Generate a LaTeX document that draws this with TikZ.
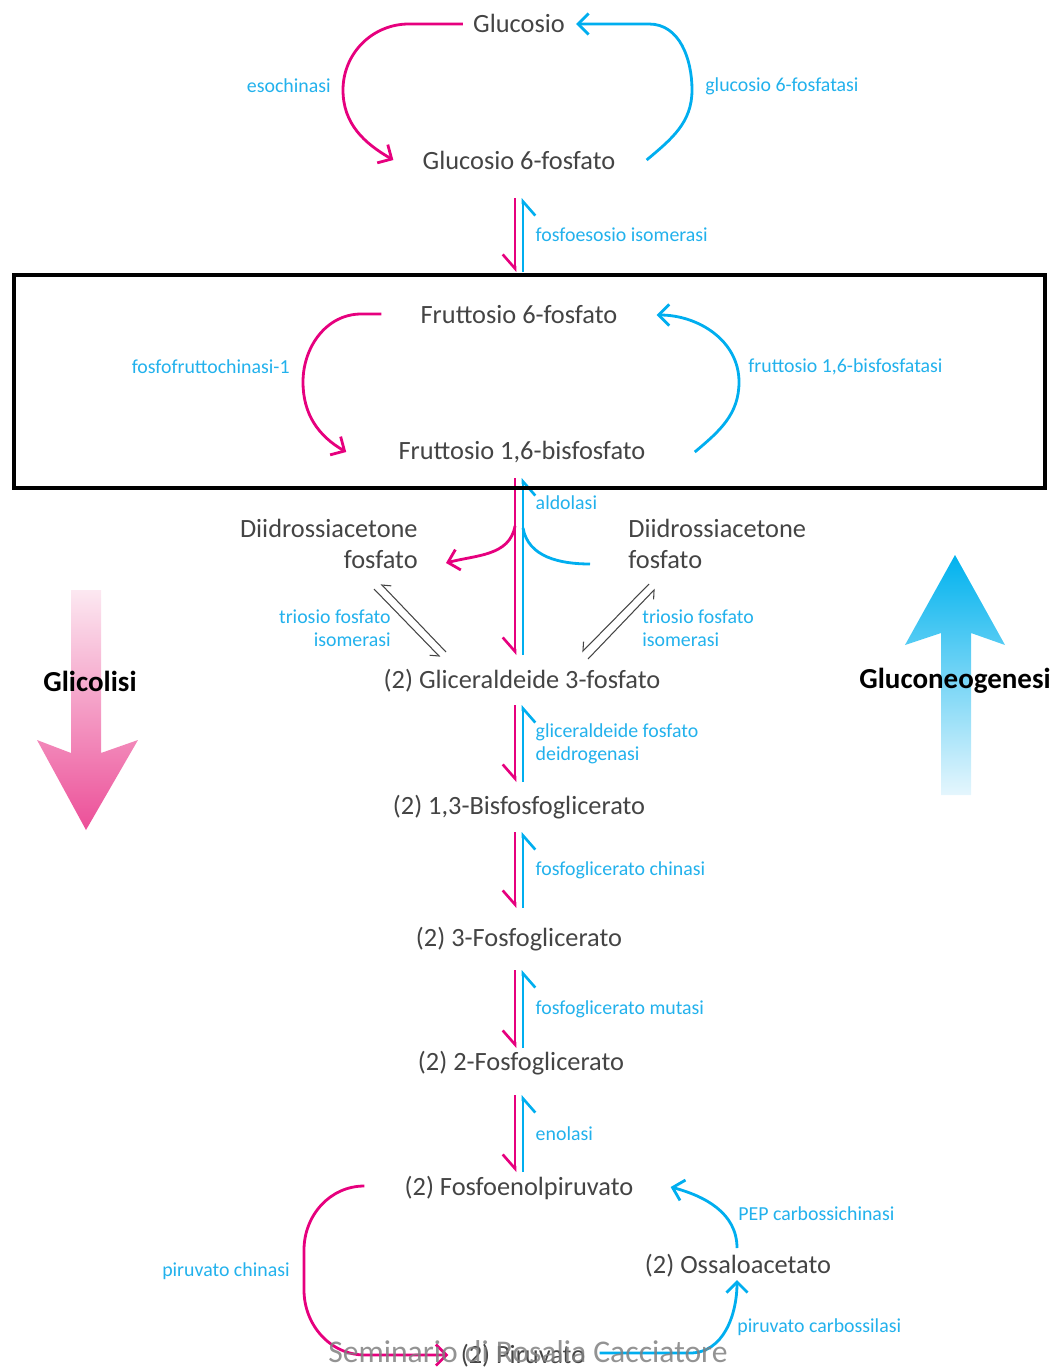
\documentclass[tikz,border=0pt]{standalone}
\usepackage{fontspec}
\setmainfont{Carlito}
\usetikzlibrary{arrows.meta, positioning, calc}
\definecolor{glycol}{HTML}{E6007E}
\definecolor{neocol}{HTML}{00AEEF}
\definecolor{enzcol}{HTML}{22B1EC}
\definecolor{metcol}{HTML}{444444}
\definecolor{glylight}{HTML}{FCE8F1}
\definecolor{glydark}{HTML}{EC4F98}
\definecolor{neolight}{HTML}{E5F6FD}
\definecolor{neodark}{HTML}{00B2EE}

\begin{document}
\begin{tikzpicture}[x=0.02cm, y=0.02cm]
    \tikzstyle{metab} = [font=\fontsize{15}{17.6}\selectfont, text=metcol, inner sep=0pt, text height=9.6pt, text depth=0pt]
    \tikzstyle{metabtwo} = [font=\fontsize{15}{17.6}\selectfont, text=metcol, inner sep=0pt]
    \tikzstyle{enz} = [font=\fontsize{11.3}{13}\selectfont, text=enzcol, inner sep=0pt, align=left]
    \tikzstyle{pathname} = [font=\fontsize{16.5}{18}\selectfont\bfseries, text=black, inner sep=0pt]
    \tikzstyle{glyarr} = [draw=glycol, line width=1.6pt, -{Straight Barb[length=6pt, width=12pt]}]
    \tikzstyle{neoarr} = [draw=neocol, line width=1.6pt, -{Straight Barb[length=6pt, width=12pt]}]
    \tikzstyle{glyline} = [draw=glycol, line width=1.6pt]
    \tikzstyle{neoline} = [draw=neocol, line width=1.6pt]
    \tikzstyle{glyharp} = [draw=glycol, line width=1.5pt, -{Straight Barb[harpoon, swap, length=8pt, width=14pt]}]
    \tikzstyle{neoharp} = [draw=neocol, line width=1.5pt, -{Straight Barb[harpoon, swap, length=8pt, width=14pt]}]
    \tikzstyle{tpiharp} = [draw=metcol, line width=0.6pt, -{Straight Barb[harpoon, swap, length=4pt, width=7pt]}]

    \useasboundingbox (0,0) rectangle (1057,-1369);

    % metaboliti
    \node [metab] (glc) at (519,-24) {Glucosio};
    \node [metab] (g6p) at (519,-161) {Glucosio 6-fosfato};
    \node [metab] (f6p) at (519,-315) {Fruttosio 6-fosfato};
    \node [metab] (f16bp) at (522,-451) {Fruttosio 1,6-bisfosfato};
    \node [metabtwo, align=right, anchor=east] (dhapL) at (418,-544) {Diidrossiacetone\\fosfato};
    \node [metabtwo, align=left, anchor=west] (dhapR) at (628,-544) {Diidrossiacetone\\fosfato};
    \node [metab] (g3p) at (522,-680) {(2) Gliceraldeide 3-fosfato};
    \node [metab] (bpg) at (519,-806) {(2) 1,3-Bisfosfoglicerato};
    \node [metab] (pg3) at (519,-938) {(2) 3-Fosfoglicerato};
    \node [metab] (pg2) at (521,-1062) {(2) 2-Fosfoglicerato};
    \node [metab] (pep) at (519,-1187) {(2) Fosfoenolpiruvato};
    \node [metab] (oaa) at (738,-1265) {(2) Ossaloacetato};
    \node [metab] (pyr) at (523,-1355) {(2) Piruvato};

    % enzimi
    \node [enz, anchor=east] (hk) at (331,-86) {esochinasi};
    \node [enz, anchor=west] (g6pase) at (705,-86) {glucosio 6-fosfatasi};
    \node [enz, anchor=east] (pfk) at (290,-367) {fosfofruttochinasi-1};
    \node [enz, anchor=west] (fbpase) at (748,-367) {fruttosio 1,6-bisfosfatasi};
    \node [enz, anchor=east, align=right] (tpiL) at (391,-628) {triosio fosfato\\isomerasi};
    \node [enz, anchor=west] (tpiR) at (642,-628) {triosio fosfato\\isomerasi};
    \node [enz, anchor=east] (pk) at (290,-1271) {piruvato chinasi};
    \node [enz, anchor=west] (pepck) at (738,-1214) {PEP carbossichinasi};
    \node [enz, anchor=west] (pc) at (737,-1327) {piruvato carbossilasi};

    % cicli
    \draw [glyarr] ($(glc.west)+(-10,0)$) -- ++(-54,0) to[out=180,in=90] (343,-90) to[out=-90,in=150] ($(g6p.west)+(-29,1)$);
    \draw [neoarr] ($(g6p.east)+(31,1)$) to[out=40,in=-90] (692,-90) to[out=90,in=0] (649,-24) -- ($(glc.east)+(11,0)$);
    \draw [glyarr] ($(f6p.west)+(-39,1)$) -- ++(-20,0) to[out=180,in=90] (303,-382) to[out=-90,in=150] ($(f16bp.west)+(-52,-1)$);
    \draw [neoarr] ($(f16bp.east)+(49,-1)$) to[out=40,in=-90] (739,-382) to[out=90,in=0] ($(f6p.east)+(39,0)$);
    \draw [glyarr] ($(pep.west)+(-40,1)$) to[out=180,in=90] (304,-1250) -- (304,-1290) to[out=-90,in=180] (365,-1355) -- ($(pyr.west)+(-12,0)$);
    \draw [neoarr] ($(pyr.east)+(14,2)$) -- (690,-1353) to[out=0,in=-90] ($(oaa.center)+(-1,-15)$);
    \draw [neoarr] ($(oaa.center)+(-1,17)$) to[out=90,in=-15] ($(pep.east)+(37,0)$);

    % reazioni reversibili
    \coordinate (mx) at (515,0);
    \coordinate (cx) at (523,0);
    \foreach \a/\b/\t/\s/\p/\l [count=\i] in {g6p/f6p/37/43/0.5/{fosfoesosio isomerasi}, f16bp/g3p/27/25/0.86/aldolasi, g3p/bpg/25/24/0.5/{gliceraldeide fosfato\\deidrogenasi}, bpg/pg3/26/30/0.5/{fosfoglicerato chinasi}, pg3/pg2/32/14/0.5/{fosfoglicerato mutasi}, pg2/pep/33/15/0.5/enolasi}
    {
        \draw [glyharp] ($(mx |- \a)+(0,-\t)$) -- ($(mx |- \b)+(0,\s)$);
        \draw [neoharp] ($(cx |- \b)+(0,\s)$) -- node [enz, pos=\p, right=6.5pt] (enz\i) {\l} ($(cx |- \a)+(0,-\t)$);
    }

    % aldolasi
    \draw [glyarr] ($(mx |- f16bp)+(0,-75)$) to[out=-100,in=15] ($(dhapL.east)+(28,-19)$);
    \draw [neoline] ($(dhapR.west)+(-38,-20)$) to[out=180,in=-80] ($(cx |- f16bp)+(0,-77)$);

    % triosio fosfato isomerasi
    \draw [tpiharp] ($(g3p)+(-76,28)$) -- ($(dhapL.east)+(-37,-40)$);
    \draw [tpiharp] ($(dhapL.east)+(-44,-45)$) -- ($(g3p)+(-82,23)$);
    \draw [tpiharp] ($(g3p)+(66,21)$) -- ($(dhapR.west)+(27,-45)$);
    \draw [tpiharp] ($(dhapR.west)+(21,-40)$) -- ($(g3p)+(60,28)$);

    % frecce laterali
    \shade [top color=glylight, bottom color=glydark] (71,-590) -- (71,-753) -- (37,-740) -- (86,-830) -- (138,-740) -- (101,-753) -- (101,-590) -- cycle;
    \shade [top color=neodark, bottom color=neolight] (941,-795) -- (941,-633) -- (905,-645) -- (955,-555) -- (1005,-645) -- (971,-633) -- (971,-795) -- cycle;
    \node [pathname] (glyname) at (90,-681) {Glicolisi};
    \node [pathname] (neoname) at (955,-681) {Gluconeogenesi};

    % riquadro
    \draw [line width=2.3pt] (14,-275) rectangle (1045,-488);

    \node [font=\fontsize{18}{20}\selectfont, text=gray, text opacity=0.85, inner sep=0pt] (wm) at (528,-1352) {Seminario di Rosalia Cacciatore};
\end{tikzpicture}
\end{document}
